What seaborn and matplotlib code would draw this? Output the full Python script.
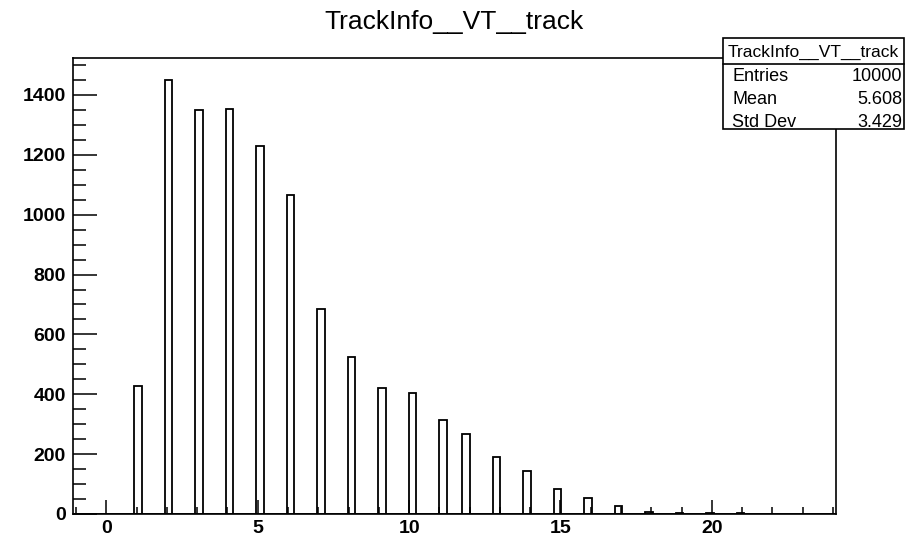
import numpy as np
import pandas as pd
import matplotlib
matplotlib.use("Agg")
import matplotlib.pyplot as plt
from matplotlib.patches import Rectangle
from matplotlib.ticker import MultipleLocator
import seaborn as sns

# number of VT tracks per event and how often each occurs
n_tracks = [1, 2, 3, 4, 5, 6, 7, 8, 9, 10, 11, 12, 13, 14, 15, 16, 17, 18, 19, 20, 21, 22]
counts = [429, 1451, 1349, 1354, 1228, 1066, 686, 525, 422, 404, 315, 267, 190, 144,
          82, 52, 28, 6, 4, 3, 2, 1]
hist_name = "TrackInfo__VT__track"
stat_names = ["Entries", "Mean", "Std Dev"]
stat_values = ["10000", "5.608", "3.429"]
x_lo, x_hi, n_bins = -1.1, 24.1, 100

sns.set_theme(style="white")
plt.rcParams['font.family'] = ['Liberation Sans', 'DejaVu Sans']
plt.rcParams['text.color'] = 'black'
plt.rcParams['xtick.color'] = 'black'
plt.rcParams['ytick.color'] = 'black'

df = pd.DataFrame({"tracks": n_tracks, "n": counts})

fig = plt.figure(figsize=(9.23, 5.37), dpi=100)
ax = fig.add_axes([73 / 923, 1 - 514 / 537, (836 - 73) / 923, (514 - 58) / 537])

sns.histplot(data=df, x="tracks", weights="n", bins=n_bins, binrange=(x_lo, x_hi),
             fill=False, element="bars", color="black", linewidth=1.3, ax=ax)

ax.set_xlim(x_lo, x_hi)
ax.set_ylim(0, 1.05 * max(counts))
ax.set_xlabel("")
ax.set_ylabel("")

ax.xaxis.set_major_locator(MultipleLocator(5))
ax.xaxis.set_minor_locator(MultipleLocator(1))
ax.yaxis.set_major_locator(MultipleLocator(200))
ax.yaxis.set_minor_locator(MultipleLocator(50))
ax.tick_params(axis="x", which="major", direction="in", length=10, width=1.1,
               bottom=True, top=False, pad=4, labelsize=14, colors="black")
ax.tick_params(axis="x", which="minor", direction="in", length=5, width=1.1,
               bottom=True, top=False, colors="black")
ax.tick_params(axis="y", which="major", direction="in", length=17, width=1.1,
               left=True, right=False, pad=5, labelsize=14, colors="black")
ax.tick_params(axis="y", which="minor", direction="in", length=9, width=1.1,
               left=True, right=False, colors="black")
for lab in ax.get_xticklabels() + ax.get_yticklabels():
    lab.set_fontweight("bold")
for sp in ax.spines.values():
    sp.set_color("black")
    sp.set_linewidth(1.2)

fig.text(454 / 923, 1 - 29 / 537, hist_name, ha="center", va="baseline", fontsize=19,
         color="black")

# stats box
bx0, bx1 = 723 / 923, 904 / 923
by0, by1 = 1 - 129 / 537, 1 - 38 / 537
fig.patches.append(Rectangle((bx0, by0), bx1 - bx0, by1 - by0, transform=fig.transFigure,
                             facecolor="white", edgecolor="black", linewidth=1.2, zorder=10))
sep = 1 - 64 / 537
fig.add_artist(plt.Line2D([bx0, bx1], [sep, sep], transform=fig.transFigure,
                          color="black", linewidth=1.2, zorder=11))
fig.text((bx0 + bx1) / 2, 1 - 57 / 537, hist_name, ha="center", va="baseline",
         fontsize=12.5, zorder=12, color="black")
row_y = [81, 104, 127]
for name, val, yy in zip(stat_names, stat_values, row_y):
    fig.text(732 / 923, 1 - yy / 537, name, ha="left", va="baseline", fontsize=13,
             zorder=12, color="black")
    fig.text(902 / 923, 1 - yy / 537, val, ha="right", va="baseline", fontsize=13,
             zorder=12, color="black")

fig.savefig("out.png", dpi=100)
